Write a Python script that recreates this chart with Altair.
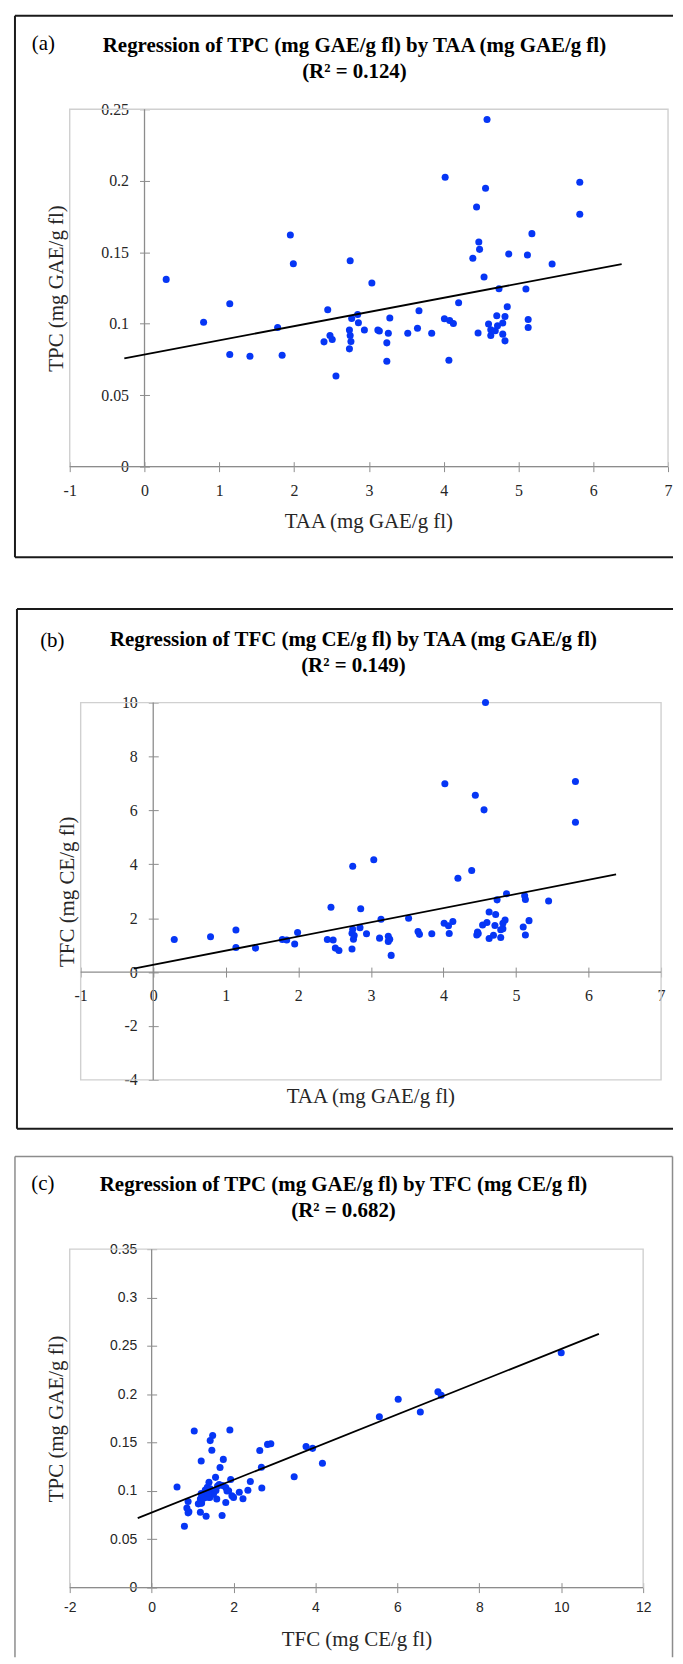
import altair as alt
import pandas as pd

# ---- data (one row per sample) ----
taa = [0.29, 0.79, 1.14, 1.14, 1.41, 1.78, 1.84, 1.95, 1.99, 2.40,
       2.45, 2.48, 2.51, 2.56, 2.74, 2.74, 2.75, 2.75, 2.76, 2.77,
       2.85, 2.86, 2.94, 3.04, 3.12, 3.14, 3.24, 3.24, 3.26, 3.28,
       3.52, 3.65, 3.67, 3.84, 4.01, 4.02, 4.07, 4.08, 4.13, 4.20,
       4.39, 4.44, 4.46, 4.47, 4.48, 4.54, 4.56, 4.58, 4.60, 4.63,
       4.63, 4.69, 4.71, 4.72, 4.74, 4.79, 4.79, 4.82, 4.82, 4.85,
       4.87, 5.10, 5.12, 5.13, 5.13, 5.18, 5.45, 5.82, 5.82]
tpc = [0.131, 0.101, 0.114, 0.0785, 0.0773, 0.0974, 0.078, 0.162, 0.142, 0.0873,
       0.1097, 0.0917, 0.089, 0.0634, 0.0824, 0.0956, 0.0917, 0.144, 0.0875, 0.1037,
       0.1065, 0.1007, 0.0956, 0.1285, 0.0956, 0.0949, 0.0866, 0.0738, 0.0933, 0.104,
       0.0933, 0.0968, 0.109, 0.0933, 0.1035, 0.2025, 0.0745, 0.1023, 0.1002, 0.1146,
       0.1458, 0.1817, 0.0935, 0.1572, 0.152, 0.1326, 0.1947, 0.2428, 0.0998, 0.0958,
       0.0918, 0.0951, 0.1055, 0.0986, 0.1245, 0.1005, 0.0927, 0.105, 0.088, 0.1118,
       0.1488, 0.1243, 0.1481, 0.103, 0.0974, 0.163, 0.1417, 0.199, 0.1766]
tfc = [1.21, 1.31, 1.56, 0.91, 0.89, 1.21, 1.19, 1.04, 1.47, 1.21,
       2.41, 1.19, 0.89, 0.80, 0.86, 1.44, 1.59, 3.93, 1.22, 1.36,
       1.65, 2.35, 1.42, 4.17, 1.26, 1.96, 1.14, 1.33, 1.22, 0.62,
       2.00, 1.51, 1.40, 1.42, 1.81, 6.99, 1.72, 1.43, 1.88, 3.48,
       3.77, 6.56, 1.38, 1.49, 1.43, 1.75, 6.02, 10.0, 1.84, 1.25,
       2.23, 1.37, 1.73, 2.14, 2.68, 1.57, 1.28, 1.61, 1.81, 1.93,
       2.91, 1.67, 2.83, 2.69, 1.38, 1.91, 2.64, 7.07, 5.56]

ticks_taa = [-1, 0, 1, 2, 3, 4, 5, 6, 7]
ticks_tpc_a = [0, 0.05, 0.1, 0.15, 0.2, 0.25]
ticks_tfc_b = [-4, -2, 0, 2, 4, 6, 8, 10]
ticks_tfc_c = [-2, 0, 2, 4, 6, 8, 10, 12]
ticks_tpc_c = [0, 0.05, 0.1, 0.15, 0.2, 0.25, 0.3, 0.35]

df = pd.DataFrame({"taa": taa, "tpc": tpc, "tfc": tfc})

SERIF = "Liberation Serif"
SANS = "Liberation Sans"
BLUE = "#0636f5"
AXIS_GRAY = "#8c8c8c"
FRAME_GRAY = "#d0d0d0"
TEXT = "#262626"
W = 667


def one():
    return alt.InlineData(values=[{"k": 0}])


def panel(p):
    xs = alt.Scale(domain=p["xdom"], range=p["xrange"], nice=False, zero=False)
    ys = alt.Scale(domain=p["ydom"], range=p["yrange"], nice=False, zero=False)

    xaxis = alt.Axis(values=p["xticks"], offset=p["xoff"], domain=False, grid=False,
                     tickSize=10, tickColor=AXIS_GRAY, tickWidth=1,
                     labelFont=p["lfont"], labelFontSize=p["lsize"], labelColor=TEXT,
                     labelPadding=p["xpad"], labelFlush=False, labelOverlap=False,
                     labelExpr="toString(datum.value)",
                     title=p["xtitle"], titleFont=SERIF, titleFontSize=21,
                     titleFontWeight="normal", titleColor=TEXT,
                     titleX=p["xtx"], titleY=p["xty"], titleAlign="center",
                     titleBaseline="alphabetic", titleAngle=0)
    yaxis = alt.Axis(values=p["yticks"], offset=p["yoff"], domain=False, grid=False,
                     tickSize=10, tickColor=AXIS_GRAY, tickWidth=1,
                     labelFont=p["lfont"], labelFontSize=p["lsize"], labelColor=TEXT,
                     labelPadding=p["ypad"], labelFlush=False, labelOverlap=False,
                     labelAlign="right", labelBaseline="middle",
                     labelExpr="toString(datum.value)",
                     title=p["ytitle"], titleFont=SERIF, titleFontSize=21,
                     titleFontWeight="normal", titleColor=TEXT,
                     titleX=p["ytx"], titleY=p["yty"], titleAlign="center",
                     titleBaseline="alphabetic", titleAngle=270)

    xf, yf = p["xf"], p["yf"]

    points = alt.Chart(df).mark_circle(size=50, color=BLUE, opacity=1).encode(
        x=alt.X(f"{xf}:Q", scale=xs, axis=xaxis),
        y=alt.Y(f"{yf}:Q", scale=ys, axis=yaxis),
    )
    frame = alt.Chart(one()).mark_rect(fillOpacity=0, stroke=FRAME_GRAY, strokeWidth=1.4).encode(
        x=alt.XDatum(p["xdom"][0], type="quantitative", scale=xs, axis=xaxis),
        x2=alt.X2Datum(p["xdom"][1]),
        y=alt.YDatum(p["ydom"][0], type="quantitative", scale=ys, axis=yaxis),
        y2=alt.Y2Datum(p["ydom"][1]),
    )
    xline = alt.Chart(one()).mark_rule(color=AXIS_GRAY, strokeWidth=1.3).encode(
        x=alt.XDatum(p["xdom"][0], type="quantitative", scale=xs, axis=xaxis),
        x2=alt.X2Datum(p["xdom"][1]),
        y=alt.YDatum(0, type="quantitative", scale=ys, axis=yaxis),
    )
    yline = alt.Chart(one()).mark_rule(color=AXIS_GRAY, strokeWidth=1.3).encode(
        x=alt.XDatum(0, type="quantitative", scale=xs, axis=xaxis),
        y=alt.YDatum(p["ydom"][0], type="quantitative", scale=ys, axis=yaxis),
        y2=alt.Y2Datum(p["ydom"][1]),
    )
    fit = alt.Chart(df).transform_regression(
        on=xf, regression=yf, extent=p["extent"]
    ).mark_line(color="black", strokeWidth=1.8).encode(
        x=alt.X(f"{xf}:Q", scale=xs, axis=xaxis),
        y=alt.Y(f"{yf}:Q", scale=ys, axis=yaxis),
    )

    texts = []
    lx, ly = p["letter_pos"]
    texts.append(alt.Chart(one()).mark_text(font=SERIF, fontSize=21, align="center",
                                            baseline="alphabetic", color="black").encode(
        x=alt.value(lx), y=alt.value(ly), text=alt.value(p["letter"])))
    for (tx, ty), line in zip(p["title_pos"], p["title"]):
        texts.append(alt.Chart(one()).mark_text(font=SERIF, fontSize=21, fontWeight="bold",
                                                align="center", baseline="alphabetic",
                                                color="black").encode(
            x=alt.value(tx), y=alt.value(ty), text=alt.value(line)))

    box = []
    for seg in p["box"]:
        enc = {k: alt.value(v) for k, v in seg.items()}
        box.append(alt.Chart(one()).mark_rule(color=p["box_color"],
                                              strokeWidth=p["box_width"]).encode(**enc))

    return alt.layer(frame, xline, yline, points, fit, *texts, *box).properties(
        width=W, height=p["height"])


pa = panel(dict(
    xf="taa", yf="tpc", height=596,
    xdom=[-1, 7], xrange=[61, 662], xticks=ticks_taa,
    ydom=[0, 0.25], yrange=[456, 97], yticks=ticks_tpc_a,
    xoff=-145, yoff=-141.1, lfont=SERIF, lsize=16, xpad=11, ypad=11,
    xtitle="TAA (mg GAE/g fl)", xtx=361, xty=66,
    ytitle="TPC (mg GAE/g fl)", ytx=-87.4, yty=276.5,
    extent=[-0.27, 6.38],
    letter="(a)", letter_pos=(34.5, 37),
    title=["Regression of TPC (mg GAE/g fl) by TAA (mg GAE/g fl)", "(R\u00b2 = 0.124)"],
    title_pos=[(347, 39), (347, 66)],
    box=[dict(x=6, y=3, y2=547), dict(x=6, x2=667, y=3), dict(x=6, x2=667, y=547)],
    box_color="#1a1a1a", box_width=2,
))

pb = panel(dict(
    xf="taa", yf="tfc", height=548,
    xdom=[-1, 7], xrange=[72, 655], xticks=ticks_taa,
    ydom=[-4, 10], yrange=[474, 95], yticks=ticks_tfc_b,
    xoff=-187.3, yoff=-149.9, lfont=SERIF, lsize=16, xpad=11, ypad=11,
    xtitle="TAA (mg GAE/g fl)", xtx=363, xty=136.3,
    ytitle="TFC (mg CE/g fl)", ytx=-85.2, yty=284.5,
    extent=[-0.27, 6.38],
    letter="(b)", letter_pos=(43.5, 39),
    title=["Regression of TFC (mg CE/g fl) by TAA (mg GAE/g fl)", "(R\u00b2 = 0.149)"],
    title_pos=[(346, 38), (346, 64)],
    box=[dict(x=8, y=1, y2=523), dict(x=8, x2=667, y=1), dict(x=8, x2=667, y=523)],
    box_color="#1a1a1a", box_width=2,
))

pc = panel(dict(
    xf="tfc", yf="tpc", height=504,
    xdom=[-2, 12], xrange=[61, 637], xticks=ticks_tfc_c,
    ydom=[0, 0.35], yrange=[434, 94], yticks=ticks_tpc_c,
    xoff=-75, yoff=-148.3, lfont=SANS, lsize=14, xpad=8, ypad=10,
    xtitle="TFC (mg CE/g fl)", xtx=349, xty=63,
    ytitle="TPC (mg GAE/g fl)", ytx=-94.6, yty=264,
    extent=[-0.34, 10.92],
    letter="(c)", letter_pos=(34, 35),
    title=["Regression of TPC (mg GAE/g fl) by TFC (mg CE/g fl)", "(R\u00b2 = 0.682)"],
    title_pos=[(336, 36), (336, 62)],
    box=[dict(x=6, y=1, y2=504), dict(x=6, x2=666.5, y=1), dict(x=666.5, y=1, y2=504)],
    box_color="#8c8c8c", box_width=1.5,
))

chart = alt.vconcat(pa, pb, pc, spacing=0).properties(padding=0).configure_view(
    stroke="transparent").configure_axis(titleFont=SERIF, labelFont=SERIF)

chart.save("out.html", embed_options={"renderer": "svg", "actions": False})
